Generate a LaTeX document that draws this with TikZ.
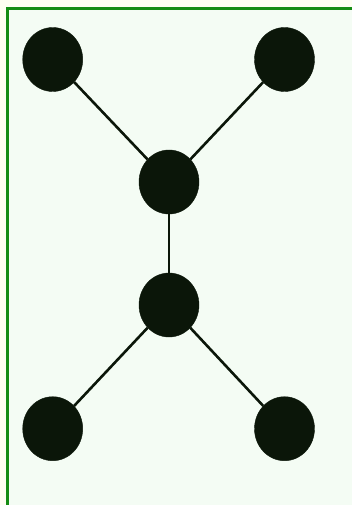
\documentclass[tikz,border=0pt]{standalone}
\usetikzlibrary{shapes.geometric}
\definecolor{bgmint}{RGB}{244,252,244}
\definecolor{outerivory}{RGB}{254,254,242}
\definecolor{framegreen}{RGB}{20,140,20}
\definecolor{nodefill}{RGB}{11,22,9}
\tikzset{
  dot/.style={ellipse, fill=nodefill, draw=nodefill, inner sep=0pt, minimum width=60pt, minimum height=64pt},
  edge/.style={line width=2.6pt, draw=nodefill}
}
\begin{document}
\begin{tikzpicture}[x=1pt,y=-1pt]
\useasboundingbox (0,0) rectangle (352,505);
\fill[outerivory] (0,0) rectangle (352,505);
\fill[bgmint] (7.5,8.5) rectangle (352,505);
\draw[framegreen, line width=2.4pt] (7.5,505) -- (7.5,8.5) -- (352,8.5);
\node[dot] (tl) at (52.7,59.5) {};
\node[dot] (tr) at (284.5,59.5) {};
\node[dot] (mt) at (169,182) {};
\node[dot] (mb) at (169,305) {};
\node[dot] (bl) at (52.7,428.7) {};
\node[dot] (br) at (284.5,428.7) {};
\draw[edge] (tl) -- (mt);
\draw[edge] (tr) -- (mt);
\draw[edge] (mt) -- (mb);
\draw[edge] (mb) -- (bl);
\draw[edge] (mb) -- (br);
\end{tikzpicture}
\end{document}
